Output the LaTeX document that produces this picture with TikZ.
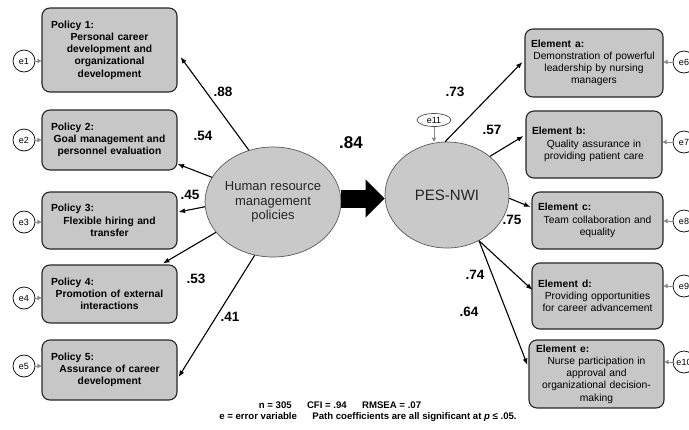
\documentclass[tikz,border=0pt]{standalone}
\usepackage{fontspec}
\setmainfont{Liberation Sans}
\usetikzlibrary{arrows.meta,shapes.geometric}
\definecolor{boxfill}{HTML}{C7C7C7}
\definecolor{ellfill}{HTML}{C9C9C9}
\definecolor{errgray}{HTML}{8A8A8A}
\newcommand\hdr[1]{\noindent\makebox[\hsize][l]{\textbf{#1}}}
\begin{document}
\begin{tikzpicture}[x=1pt,y=-1pt,
  box/.style={draw=black!85, line width=1.1pt, rounded corners=8pt, fill=boxfill,
    inner sep=0pt, align=center},
  pbox/.style={box, minimum width=135pt, text width=117pt,
    font=\bfseries\fontsize{10.3}{12.3}\selectfont},
  ebox/.style={box, font=\fontsize{10.3}{12.2}\selectfont},
  ell/.style={ellipse, draw=black!65, line width=0.7pt, fill=ellfill, inner sep=0pt,
    align=center, text=black!85},
  coef/.style={line width=1.1pt, -{Latex[length=6.5pt,width=5pt]}},
  lab/.style={font=\bfseries\fontsize{13.5}{15}\selectfont},
  err/.style={circle, draw=black, line width=0.7pt, fill=white, minimum size=22pt,
    inner sep=0pt, font=\fontsize{9}{10}\selectfont},
  errarr/.style={draw=errgray, line width=0.8pt, -{Triangle[length=4pt,width=4.5pt]}},
  foot/.style={font=\bfseries\fontsize{9.6}{12}\selectfont, inner sep=0pt}
]
\useasboundingbox (0,0) rectangle (689,429);

% policy boxes
\node[pbox, minimum height=84pt] (p1) at (109.5,50)
  {\hdr{Policy 1:}\\Personal career\\development and\\organizational\\development};
\node[pbox, minimum height=60pt] (p2) at (109.5,140)
  {\hdr{Policy 2:}\\Goal management and\\personnel evaluation};
\node[pbox, minimum height=57pt] (p3) at (109.5,220.5)
  {\hdr{Policy 3:}\\Flexible hiring and\\transfer};
\node[pbox, minimum height=58pt] (p4) at (109.5,294)
  {\hdr{Policy 4:}\\Promotion of external\\interactions};
\node[pbox, minimum height=60pt] (p5) at (109.5,370)
  {\hdr{Policy 5:}\\Assurance of career\\development};

% element boxes
\node[ebox, minimum width=138pt, minimum height=68pt, text width=126pt] (ea) at (594,63)
  {\hdr{Element\hspace{0.4em}a:}\\Demonstration of powerful\\leadership by nursing\\managers};
\node[ebox, minimum width=136pt, minimum height=67pt, text width=124pt] (eb) at (594,144.5)
  {\hdr{Element\hspace{0.4em}b:}\\Quality assurance in\\providing patient care};
\node[ebox, minimum width=131pt, minimum height=57pt, text width=119pt] (ec) at (597.5,220.5)
  {\hdr{Element\hspace{0.4em}c:}\\Team collaboration and\\equality};
\node[ebox, minimum width=131pt, minimum height=66pt, text width=119pt] (ed) at (597.5,296)
  {\hdr{Element\hspace{0.4em}d:}\\Providing opportunities\\for career advancement};
\node[ebox, minimum width=135pt, minimum height=68pt, text width=121pt] (ee) at (596.5,374)
  {\hdr{Element\hspace{0.4em}e:}\\Nurse participation in\\approval and\\organizational decision-\\making};

% latent variables
\node[ell, minimum width=129pt, minimum height=110pt,
  font=\fontsize{13}{14.5}\selectfont] (hr) at (273,202)
  {Human resource\\management\\policies};
\node[ell, minimum width=124pt, minimum height=106pt,
  font=\fontsize{15}{17}\selectfont] (pes) at (447,195) {PES-NWI};
\node[ellipse, draw=black!70, line width=0.7pt, fill=white, minimum width=34pt,
  minimum height=13pt, inner sep=0pt, font=\fontsize{9}{10}\selectfont] (e11) at (434,120) {e11};
\draw[errarr] (e11.south) -- (e11.south |- pes.north);

% structural arrow
\path (hr.east) ++(0,-3.5) coordinate (ba);
\draw[line width=18pt, -{Triangle[length=19pt,width=37pt]}] (ba) -- (ba -| pes.west);
\node[font=\bfseries\fontsize{17}{19}\selectfont] (l84) at (351,143) {.84};

% measurement paths (left)
\draw[coef] (hr.115) -- ([xshift=3pt,yshift=-7pt]p1.east);
\draw[coef] (hr.158) -- ([yshift=-24pt]p2.east);
\draw[coef] (hr.184.5) -- ([xshift=1pt,yshift=8.5pt]p3.east);
\draw[coef] (hr.208.6) -- ([xshift=53.5pt,yshift=1pt]p4.north);
\draw[coef] (hr.251.6) -- ([xshift=1pt,yshift=-7pt]p5.east);

% measurement paths (right)
\draw[coef] (pes.92) -- ([xshift=-2pt,yshift=1pt]ea.west);
\draw[coef] (pes.42.8) -- ([xshift=-2pt,yshift=8.5pt]eb.west);
\draw[coef] (pes.-3) -- ([xshift=-1pt,yshift=13.5pt]ec.west);
\draw[coef] (pes.-55) -- ([xshift=1pt,yshift=6pt]ed.west);
\draw[coef] (pes.-55) -- ([xshift=-1pt,yshift=9pt]ee.west);

% coefficient labels
\node[lab] (l88) at (223,92) {.88};
\node[lab] (l54) at (203,136) {.54};
\node[lab] (l45) at (190,195) {.45};
\node[lab] (l53) at (196,279) {.53};
\node[lab] (l41) at (230,317) {.41};
\node[lab] (l73) at (455,92) {.73};
\node[lab] (l57) at (492,130) {.57};
\node[lab] (l75) at (512,220) {.75};
\node[lab] (l74) at (475,275) {.74};
\node[lab] (l64) at (469,312) {.64};

% error terms (left)
\node[err] (e1) at (24,61) {e1};
\node[err] (e2) at (24,140) {e2};
\node[err] (e3) at (24,222) {e3};
\node[err] (e4) at (24,298) {e4};
\node[err] (e5) at (24,366) {e5};
\draw[errarr] (e1) -- (e1 -| p1.west);
\draw[errarr] (e2) -- (e2 -| p2.west);
\draw[errarr] (e3) -- (e3 -| p3.west);
\draw[errarr] (e4) -- (e4 -| p4.west);
\draw[errarr] (e5) -- (e5 -| p5.west);

% error terms (right)
\node[err] (e6) at (684,62) {e6};
\node[err] (e7) at (684,142) {e7};
\node[err] (e8) at (684,221) {e8};
\node[err] (e9) at (684,286) {e9};
\node[err] (e10) at (684,362) {e10};
\draw[errarr] (e6) -- (e6 -| ea.east);
\draw[errarr] (e7) -- (e7 -| eb.east);
\draw[errarr] (e8) -- (e8 -| ec.east);
\draw[errarr] (e9) -- (e9 -| ed.east);
\draw[errarr] (e10) -- (e10 -| ee.east);

% footer
\node[foot] (f1) at (340,405) {n = 305\hspace{1.6em}CFI = .94\hspace{1.6em}RMSEA = .07};
\node[foot] (f2) at (368,417) {e = error variable\hspace{1.6em}Path coefficients are all significant at \textit{p} ≤ .05.};
\end{tikzpicture}
\end{document}
